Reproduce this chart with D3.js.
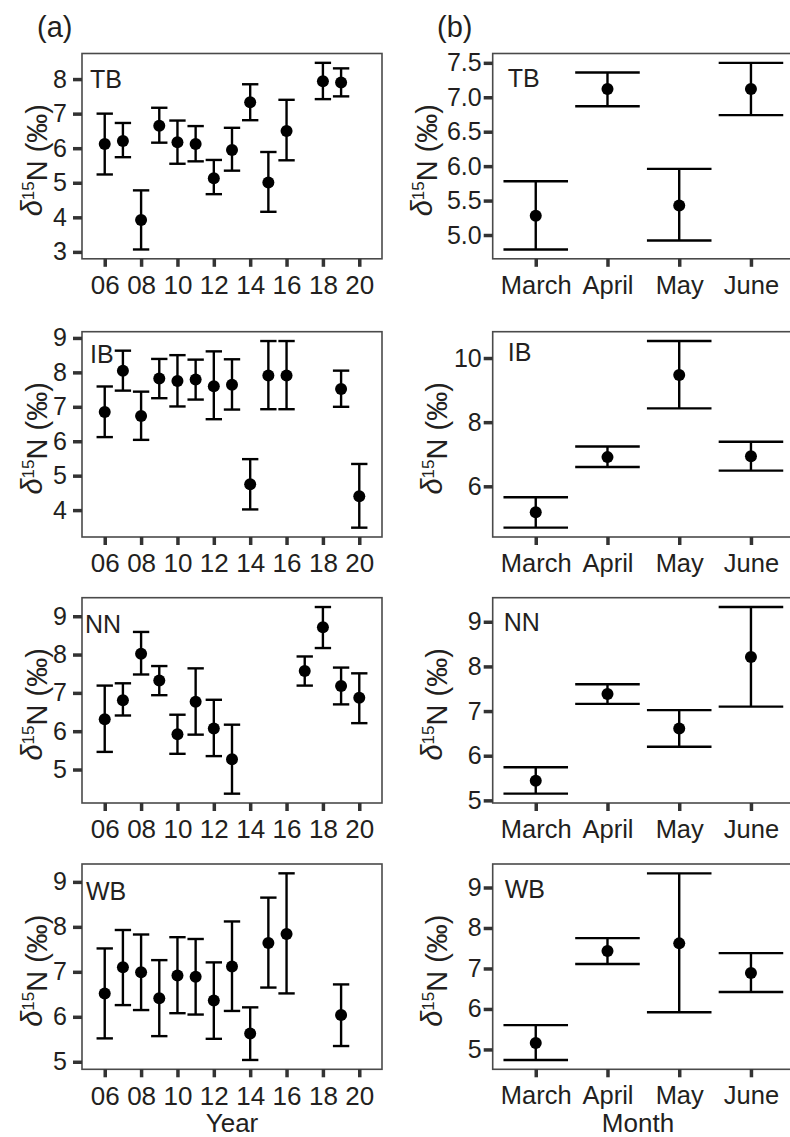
<!DOCTYPE html>
<html>
<head>
<meta charset="utf-8">
<script src="https://cdn.jsdelivr.net/npm/d3@7"></script>
<style>
  body { margin: 0; background: #fff; }
  svg { display: block; font-family: "Liberation Sans", Arial, Helvetica, sans-serif; }
</style>
</head>
<body>
<svg id="chart" width="790" height="1137"></svg>
<script>
// ---- data ----
const sites = ['TB', 'IB', 'NN', 'WB'];
const months = ['March', 'April', 'May', 'June'];
const yearTicks = [6, 8, 10, 12, 14, 16, 18, 20];

// (a) by year
const tbYears = [6, 7, 8, 9, 10, 11, 12, 13, 14, 15, 16, 18, 19];
const tbYearMean = [6.12, 6.21, 3.92, 6.65, 6.17, 6.12, 5.13, 5.95, 7.33, 5.01, 6.50, 7.94, 7.90];
const tbYearLow  = [5.24, 5.74, 3.07, 6.16, 5.55, 5.62, 4.67, 5.35, 6.81, 4.16, 5.65, 7.42, 7.50];
const tbYearHigh = [7.00, 6.73, 4.78, 7.17, 6.80, 6.64, 5.66, 6.59, 7.85, 5.89, 7.40, 8.47, 8.31];

const ibYears = [6, 7, 8, 9, 10, 11, 12, 13, 14, 15, 16, 19, 20];
const ibYearMean = [6.85, 8.05, 6.73, 7.82, 7.75, 7.79, 7.60, 7.64, 4.75, 7.91, 7.91, 7.52, 4.40];
const ibYearLow  = [6.12, 7.47, 6.04, 7.25, 7.01, 7.21, 6.64, 6.92, 4.02, 6.93, 6.93, 7.00, 3.49];
const ibYearHigh = [7.59, 8.63, 7.44, 8.39, 8.50, 8.37, 8.61, 8.38, 5.48, 8.91, 8.91, 8.05, 5.34];

const nnYears = [6, 7, 8, 9, 10, 11, 12, 13, 17, 18, 19, 20];
const nnYearMean = [6.31, 6.81, 8.02, 7.32, 5.92, 6.77, 6.07, 5.27, 7.57, 8.71, 7.18, 6.87];
const nnYearLow  = [5.46, 6.41, 7.48, 6.94, 5.41, 5.91, 5.35, 4.37, 7.19, 8.17, 6.70, 6.21];
const nnYearHigh = [7.19, 7.25, 8.59, 7.70, 6.43, 7.64, 6.82, 6.17, 7.95, 9.24, 7.66, 7.51];

const wbYears = [6, 7, 8, 9, 10, 11, 12, 13, 14, 15, 16, 19];
const wbYearMean = [6.52, 7.10, 6.99, 6.41, 6.92, 6.89, 6.36, 7.12, 5.63, 7.64, 7.84, 6.04];
const wbYearLow  = [5.52, 6.26, 6.15, 5.57, 6.08, 6.05, 5.51, 6.13, 5.04, 6.65, 6.52, 5.35];
const wbYearHigh = [7.52, 7.93, 7.83, 7.26, 7.77, 7.73, 7.21, 8.12, 6.21, 8.65, 9.19, 6.72];

// (b) by month
const tbMonthMean = [5.28, 7.12, 5.43, 7.12];
const tbMonthLow  = [4.79, 6.87, 4.92, 6.74];
const tbMonthHigh = [5.78, 7.36, 5.96, 7.50];

const ibMonthMean = [5.19, 6.91, 9.47, 6.94];
const ibMonthLow  = [4.71, 6.60, 8.43, 6.49];
const ibMonthHigh = [5.66, 7.24, 10.53, 7.39];

const nnMonthMean = [5.44, 7.38, 6.61, 8.21];
const nnMonthLow  = [5.15, 7.16, 6.20, 7.10];
const nnMonthHigh = [5.74, 7.60, 7.02, 9.33];

const wbMonthMean = [5.16, 7.43, 7.62, 6.89];
const wbMonthLow  = [4.74, 7.11, 5.92, 6.42];
const wbMonthHigh = [5.60, 7.75, 9.35, 7.38];

// y tick values for each panel
const yearYTicks = [[3, 4, 5, 6, 7, 8], [4, 5, 6, 7, 8, 9], [5, 6, 7, 8, 9], [5, 6, 7, 8, 9]];
const monthYTicks = [[5, 5.5, 6, 6.5, 7, 7.5], [6, 8, 10], [5, 6, 7, 8, 9], [5, 6, 7, 8, 9]];

// ---- layout ----
const textColor = '#231f20';
const fontStack = '"Liberation Sans", Arial, Helvetica, sans-serif';
const colLeft = [82, 492.7];
const colWidth = [300, 301.3];
const rowTop = [53.5, 331.7, 597.7, 864];
const rowHeight = 205.3;
const yearDomain = [4.75, 21.25];
const capFrac = 0.9;     // error bar cap width, in x units
const dotR = 6;

// panel label offsets from top-left of box
const labelOffA = [[8, 34.5], [8, 31], [3, 35], [4, 36]];
const labelOffB = [[15, 33], [15, 29], [11, 33], [12, 34]];
// y title baseline distance left of box
const titleOffA = [40, 40, 40, 40];
const titleOffB = [61, 51, 51, 51];

const yearSets = [
    [tbYears, tbYearMean, tbYearLow, tbYearHigh],
    [ibYears, ibYearMean, ibYearLow, ibYearHigh],
    [nnYears, nnYearMean, nnYearLow, nnYearHigh],
    [wbYears, wbYearMean, wbYearLow, wbYearHigh]
];
const monthSets = [
    [tbMonthMean, tbMonthLow, tbMonthHigh],
    [ibMonthMean, ibMonthLow, ibMonthHigh],
    [nnMonthMean, nnMonthLow, nnMonthHigh],
    [wbMonthMean, wbMonthLow, wbMonthHigh]
];

const svg = d3.select('#chart');

// ggplot-like 5% expansion of the error bar range
function expandedDomain(low, high) {
    const lo = d3.min(low), hi = d3.max(high);
    const pad = (hi - lo) * 0.05;
    return [lo - pad, hi + pad];
}

function styleAxis(g, fs) {
    g.select('.domain').remove();
    g.selectAll('.tick line').attr('stroke', '#333').attr('stroke-width', 3.5);
    g.selectAll('.tick text')
        .attr('fill', textColor)
        .style('font-size', fs + 'px')
        .style('font-family', fontStack);
}

function yTitle(g, x, yc) {
    const t = g.append('text')
        .attr('transform', `translate(${x},${yc}) rotate(-90)`)
        .attr('text-anchor', 'middle')
        .attr('fill', textColor)
        .style('font-size', '29px');
    t.append('tspan').style('font-style', 'italic').text('δ');
    t.append('tspan').attr('dy', '-0.45em').style('font-size', '17px').text('15');
    t.append('tspan').attr('dy', '0.45em').text('N (‰)');
}

function drawPanel(col, row, xScale, items, yTicks, yDomain, capW) {
    const left = colLeft[col], top = rowTop[row];
    const w = colWidth[col], h = rowHeight;
    const g = svg.append('g').attr('transform', `translate(${left},${top})`);

    const y = d3.scaleLinear().domain(yDomain).range([h, 0]);

    // error bars
    const bars = g.append('g');
    items.forEach(d => {
        const cx = xScale(d.x);
        bars.append('line')
            .attr('x1', cx).attr('x2', cx)
            .attr('y1', y(d.low)).attr('y2', y(d.high))
            .attr('stroke', '#000').attr('stroke-width', 2.4);
        [d.low, d.high].forEach(v => {
            bars.append('line')
                .attr('x1', cx - capW / 2).attr('x2', cx + capW / 2)
                .attr('y1', y(v)).attr('y2', y(v))
                .attr('stroke', '#000').attr('stroke-width', 2.4);
        });
    });

    // means
    g.append('g').selectAll('circle')
        .data(items)
        .join('circle')
        .attr('cx', d => xScale(d.x))
        .attr('cy', d => y(d.mean))
        .attr('r', dotR)
        .attr('fill', '#000');

    // box
    g.append('rect')
        .attr('width', w).attr('height', h)
        .attr('fill', 'none')
        .attr('stroke', '#4a4a4a')
        .attr('stroke-width', 1.6);

    // y axis
    const ya = g.append('g')
        .call(d3.axisLeft(y)
            .tickValues(yTicks)
            .tickSize(9)
            .tickPadding(col === 0 ? 6 : 2)
            .tickFormat(col === 1 && row === 0 ? d3.format('.1f') : d3.format('d')));
    styleAxis(ya, 25);

    // panel label
    const off = col === 0 ? labelOffA[row] : labelOffB[row];
    g.append('text')
        .attr('x', off[0]).attr('y', off[1])
        .attr('fill', textColor)
        .style('font-size', '25px')
        .text(sites[row]);

    yTitle(g, -(col === 0 ? titleOffA[row] : titleOffB[row]), h / 2 + 4);

    return g;
}

// ---- (a) year panels ----
const xYear = d3.scaleLinear().domain(yearDomain).range([0, colWidth[0]]);
const capYear = (xYear(1) - xYear(0)) * capFrac;

yearSets.forEach(([yrs, mean, low, high], row) => {
    const items = yrs.map((yr, i) => ({ x: yr, mean: mean[i], low: low[i], high: high[i] }));
    const g = drawPanel(0, row, xYear, items, yearYTicks[row], expandedDomain(low, high), capYear);
    const xa = g.append('g')
        .attr('transform', `translate(0,${rowHeight})`)
        .call(d3.axisBottom(xYear)
            .tickValues(yearTicks)
            .tickSize(8)
            .tickPadding(9)
            .tickFormat(d => String(d).padStart(2, '0')));
    styleAxis(xa, 26);
});

// ---- (b) month panels ----
const xMonth = d3.scalePoint().domain(months).range([0, colWidth[1]]).padding(0.6);
const capMonth = xMonth.step() * capFrac;

monthSets.forEach(([mean, low, high], row) => {
    const items = months.map((m, i) => ({ x: m, mean: mean[i], low: low[i], high: high[i] }));
    const g = drawPanel(1, row, xMonth, items, monthYTicks[row], expandedDomain(low, high), capMonth);
    const xa = g.append('g')
        .attr('transform', `translate(0,${rowHeight})`)
        .call(d3.axisBottom(xMonth)
            .tickSize(8)
            .tickPadding(9));
    styleAxis(xa, 25.5);
});

// ---- titles ----
svg.append('text')
    .attr('x', 37).attr('y', 37)
    .attr('fill', textColor)
    .style('font-size', '29px')
    .text('(a)');
svg.append('text')
    .attr('x', 437).attr('y', 37)
    .attr('fill', textColor)
    .style('font-size', '29px')
    .text('(b)');

// x titles, kept just clear of the bottom edge
svg.append('text')
    .attr('x', colLeft[0] + colWidth[0] / 2).attr('y', 1131.5)
    .attr('text-anchor', 'middle')
    .attr('fill', textColor)
    .style('font-size', '26px')
    .text('Year');
svg.append('text')
    .attr('x', 638).attr('y', 1131.5)
    .attr('text-anchor', 'middle')
    .attr('fill', textColor)
    .style('font-size', '26px')
    .text('Month');
</script>
</body>
</html>
